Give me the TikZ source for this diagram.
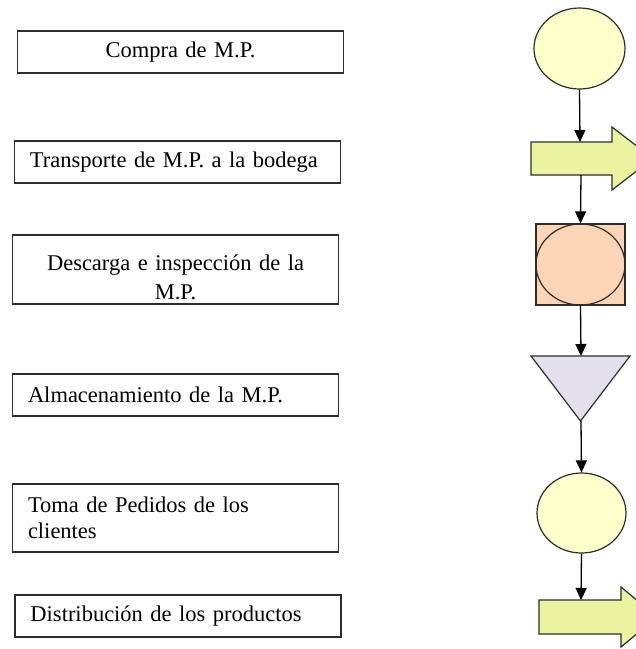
\documentclass[tikz,border=0pt]{standalone}
\usepackage{fontspec}
\setmainfont{Liberation Serif}
\usetikzlibrary{shapes.geometric,arrows.meta}
\definecolor{amarillo}{RGB}{255,255,204}
\definecolor{verdoso}{RGB}{235,242,160}
\definecolor{durazno}{RGB}{251,213,181}
\definecolor{lila}{RGB}{228,223,236}
\definecolor{borde}{RGB}{45,45,45}

\begin{document}
\begin{tikzpicture}[x=1pt, y=-1pt,
		caja/.style={draw=borde, line width=1.6pt, rectangle, minimum height=42pt, inner xsep=15.5pt, inner ysep=0pt, text width=295pt, align=left, font=\fontsize{22.5}{26}\selectfont},
		simbolo/.style={draw=borde, line width=1.2pt},
		flujo/.style={-{Triangle[width=11pt,length=12pt]}, line width=1.3pt}]
			\useasboundingbox (0,0) rectangle (636,649);
			%% pasos
			\node[caja, align=center] (compra) at (180.5,52) {Compra de M.P.};
			\node[caja] (transp) at (177.5,162) {Transporte de M.P. a la bodega};
			\node[caja, minimum height=69pt] (descarga) at (175.5,269.5) {};
			\node[caja, draw=none, align=center, font=\fontsize{22.5}{29}\selectfont] (descargatxt) at (175.5,277) {Descarga e inspección de la\\M.P.};
			\node[caja] (almac) at (175.5,395) {Almacenamiento de la M.P.};
			\node[caja, minimum height=68pt] (pedidos) at (175.5,518) {Toma de Pedidos de los\\clientes};
			\node[caja] (distrib) at (178,616) {Distribución de los productos};
			%% simbolos
			\node[simbolo, ellipse, fill=amarillo, minimum width=91pt, minimum height=81pt, inner sep=0pt] (op1) at (579.5,48.5) {};
			\draw[simbolo, fill=verdoso] (531,142) -- (612,142) -- (612,127) -- (653,158.5) -- (612,190) -- (612,175) -- (531,175) -- cycle;
			\coordinate (tr1n) at (580,142);
			\coordinate (tr1s) at (581,175);
			\node[simbolo, rectangle, fill=durazno, minimum width=89pt, minimum height=81pt, inner sep=0pt] (insp) at (580.5,264.5) {};
			\node[simbolo, ellipse, minimum width=89pt, minimum height=81pt, inner sep=0pt] (inspc) at (insp.center) {};
			\draw[simbolo, fill=lila] (531,356) -- (630,356) -- (580.5,421) -- cycle;
			\coordinate (alm1n) at (581,356);
			\coordinate (alm1s) at (581,421);
			\node[simbolo, ellipse, fill=amarillo, minimum width=89pt, minimum height=80pt, inner sep=0pt] (op2) at (581.5,513) {};
			\draw[simbolo, fill=verdoso] (539,600) -- (621,600) -- (621,587) -- (657,617) -- (621,647) -- (621,634) -- (539,634) -- cycle;
			\coordinate (tr2n) at (581,600);
			%% flechas
			\draw[flujo] (op1.south) -- (tr1n);
			\draw[flujo] (tr1s) -- (insp.north);
			\draw[flujo] (insp.south) -- (alm1n);
			\draw[flujo] (alm1s) -- (op2.north);
			\draw[flujo] (op2.south) -- (tr2n);
		\end{tikzpicture}
\end{document}
